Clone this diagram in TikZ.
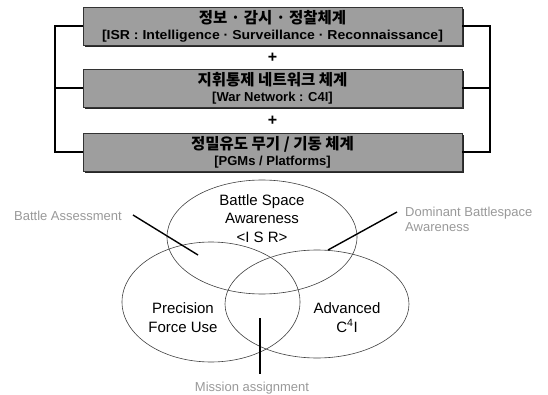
\documentclass[tikz,border=0pt]{standalone}
\usepackage{fontspec}
\setmainfont{Liberation Sans}
\newfontfamily\kr{Noto Sans CJK KR}
\usetikzlibrary{shapes.geometric}
\begin{document}
\begin{tikzpicture}[x=1pt,y=-1pt,
  sysbox/.style={draw=black!80, line width=0.6pt, fill=black!38, minimum width=379pt, minimum height=38pt,
    inner sep=0pt, align=center, font=\fontsize{13}{16}\selectfont\bfseries},
  shadowbox/.style={fill=black!85, minimum width=379pt, minimum height=38pt, inner sep=0pt},
  krline/.style={},
  bracket/.style={line width=1.8pt, black},
  venn/.style={draw=black!75, line width=0.6pt, ellipse, inner sep=0pt},
  venntext/.style={align=center, font=\fontsize{15}{18.5}\selectfont},
  note/.style={text=black!40, font=\fontsize{13}{15}\selectfont, inner sep=1pt},
  pointer/.style={line width=1.4pt, black},
  plus/.style={font=\fontsize{16}{16}\selectfont\bfseries}]
\useasboundingbox (0,0) rectangle (548,395);
% shadows
\node[shadowbox] (s1) at (274,28) {};
\node[shadowbox] (s2) at (274,90) {};
\node[shadowbox] (s3) at (274,154) {};
% boxes
\node[sysbox] (b1) at (272.5,26) {{\kr\fontsize{15.5}{16}\selectfont 정보 · 감시 · 정찰체계}\\{\scalebox{1.08}[1]{[ISR : Intelligence · Surveillance · Reconnaissance]}}};
\node[sysbox] (b2) at (272.5,88) {{\kr\fontsize{15.5}{16}\selectfont 지휘통제 네트워크 체계}\\{[War Network : C4I]}};
\node[sysbox] (b3) at (272.5,152) {{\kr\fontsize{15.5}{16}\selectfont 정밀유도 무기 / 기동 체계}\\{[PGMs / Platforms]}};
\node[plus] (p1) at (272.5,58) {+};
\node[plus] (p2) at (272.5,121) {+};
% brackets
\coordinate (lt) at (55,26);
\coordinate (lb) at (55,152);
\coordinate (lm) at (55,88);
\coordinate (rt) at (490,26);
\coordinate (rb) at (490,152);
\coordinate (rm) at (490,88);
\draw[bracket] (b1.west) -- (lt) -- (lb) -- (b3.west);
\draw[bracket] (lm) -- (b2.west);
\draw[bracket] (b1.east) -- (rt) -- (rb) -- (b3.east);
\draw[bracket] (rm) -- (b2.east);
% venn
\node[venn, minimum width=190pt, minimum height=114pt] (e1) at (262,237) {};
\node[venn, minimum width=178pt, minimum height=120pt] (e2) at (211,302) {};
\node[venn, minimum width=184pt, minimum height=108pt] (e3) at (317,304) {};
\node[venntext] (t1) at (262,218.5) {Battle Space\\Awareness\\<I S R>};
\node[venntext] (t2) at (183,317.5) {Precision\\Force Use};
\node[venntext] (t3) at (347,317.5) {Advanced\\C\textsuperscript{4}I};
% notes
\node[note, anchor=east] (n1) at (123,216) {Battle Assessment};
\node[note, anchor=north west, align=left] (n2) at (404,206) {Dominant Battlespace\\Awareness};
\node[note] (n3) at (252,388) {Mission assignment};
\coordinate (a1) at (133,215);
\coordinate (c1) at (198,255);
\coordinate (a2) at (397,212);
\coordinate (c2) at (328,250);
\coordinate (c3a) at (260,318);
\coordinate (c3b) at (260,374);
\draw[pointer] (a1) -- (c1);
\draw[pointer] (a2) -- (c2);
\draw[pointer] (c3a) -- (c3b);
\end{tikzpicture}
\end{document}
